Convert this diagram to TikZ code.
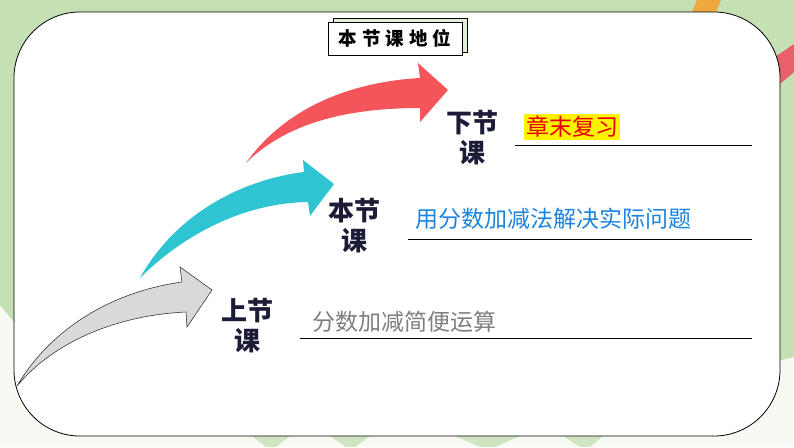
\documentclass[tikz,border=0pt]{standalone}
\usepackage{fontspec}
\setmainfont{Noto Sans CJK SC}
\definecolor{bggreen}{HTML}{C5E0B4}
\definecolor{bgwhite}{HTML}{F7F9F3}
\definecolor{trigreen}{HTML}{CFE5C2}
\definecolor{orangedeco}{HTML}{F0A83E}
\definecolor{pinkdeco}{HTML}{E8606A}
\definecolor{navy}{HTML}{1C1C36}
\definecolor{redarrow}{HTML}{F4555B}
\definecolor{cyanarrow}{HTML}{2EC4D2}
\definecolor{grayarrow}{HTML}{D9D9D9}
\definecolor{grayline}{HTML}{3A3A3A}
\definecolor{redtxt}{HTML}{E80000}
\definecolor{bluetxt}{HTML}{1C84DE}
\definecolor{graytxt}{HTML}{7F7F7F}
\definecolor{titleback}{HTML}{E2F0D9}
\begin{document}
\begin{tikzpicture}[x=1pt,y=-1pt,
  lbl/.style={font=\fontsize{26}{30}\selectfont\bfseries, text=navy, align=center, inner sep=0pt},
  txt/.style={font=\fontsize{23}{26}\selectfont, inner sep=0pt, anchor=center},
  uline/.style={draw=black, line width=0.8pt},
  arrowshape/.style={line join=miter}
]
\useasboundingbox (0,0) rectangle (794,447);
% background
\fill[bgwhite] (0,0) rectangle (794,447);
\fill[bggreen] (0,0) -- (794,0) -- (794,357) -- (700,380) -- (14,322) -- (0,305) -- cycle;
\fill[orangedeco] (697,0) -- (721,0) -- (716,12) -- (692,12) -- cycle;
\fill[pinkdeco] (775,57) -- (794,44) -- (794,72) -- (780,84) -- cycle;
\fill[trigreen] (252,436) -- (290,436) -- (276,447) -- (266,447) -- cycle;
\fill[trigreen] (330,436) -- (370,436) -- (355,447) -- (346,447) -- cycle;
\fill[trigreen] (455,436) -- (520,436) -- (495,447) -- (480,447) -- cycle;
\fill[trigreen] (563,436) -- (603,436) -- (590,447) -- (580,447) -- cycle;
% main panel
\draw[line width=0.8pt, fill=white, rounded corners=66pt] (14,12) rectangle (780,436);
% arrows
\fill[redarrow, arrowshape] (246,163) .. controls (285,108) and (350,82) .. (420,78)
  -- (418,63) -- (448,90) -- (420,122) -- (420,108)
  .. controls (345,108) and (285,124) .. cycle;
\fill[cyanarrow, arrowshape] (140,278) .. controls (175,215) and (240,180) .. (304,172)
  -- (303,160) -- (334,184) -- (310,216) -- (308,202)
  .. controls (240,203) and (180,238) .. cycle;
\filldraw[fill=grayarrow, draw=grayline, line width=0.6pt, arrowshape] (17,386) .. controls (50,330) and (110,292) .. (182,282)
  -- (180,267) -- (212,290) -- (187,327) -- (186,312)
  .. controls (120,315) and (55,340) .. cycle;
% labels
\node[lbl] (lnext) at (472,138) {下节\\课};
\node[lbl] (lthis) at (354,226) {本节\\课};
\node[lbl] (lprev) at (247,326) {上节\\课};
% texts
\node[txt, text=redtxt, fill=yellow, inner xsep=2pt, inner ysep=2.5pt] (tnext) at (572,127) {章末复习};
\node[txt, text=bluetxt] (tthis) at (553,219) {用分数加减法解决实际问题};
\node[txt, text=graytxt] (tprev) at (404,322) {分数加减简便运算};
% underlines
\coordinate (u1a) at (515,145); \coordinate (u1b) at (752,145);
\coordinate (u2a) at (408,239); \coordinate (u2b) at (752,239);
\coordinate (u3a) at (300,338); \coordinate (u3b) at (752,338);
\draw[uline] (u1a) -- (u1b);
\draw[uline] (u2a) -- (u2b);
\draw[uline] (u3a) -- (u3b);
% title
\draw[fill=titleback, line width=0.6pt] (333,18) rectangle (467,52);
\node[draw=black, fill=white, line width=0.8pt, minimum width=134pt, minimum height=33pt, inner sep=0pt,
  font=\fontsize{18.5}{21}\selectfont\bfseries] (title) at (395,38.5)
  {本\hspace{5pt}节\hspace{5pt}课\hspace{5pt}地\hspace{5pt}位};
\end{tikzpicture}
\end{document}
